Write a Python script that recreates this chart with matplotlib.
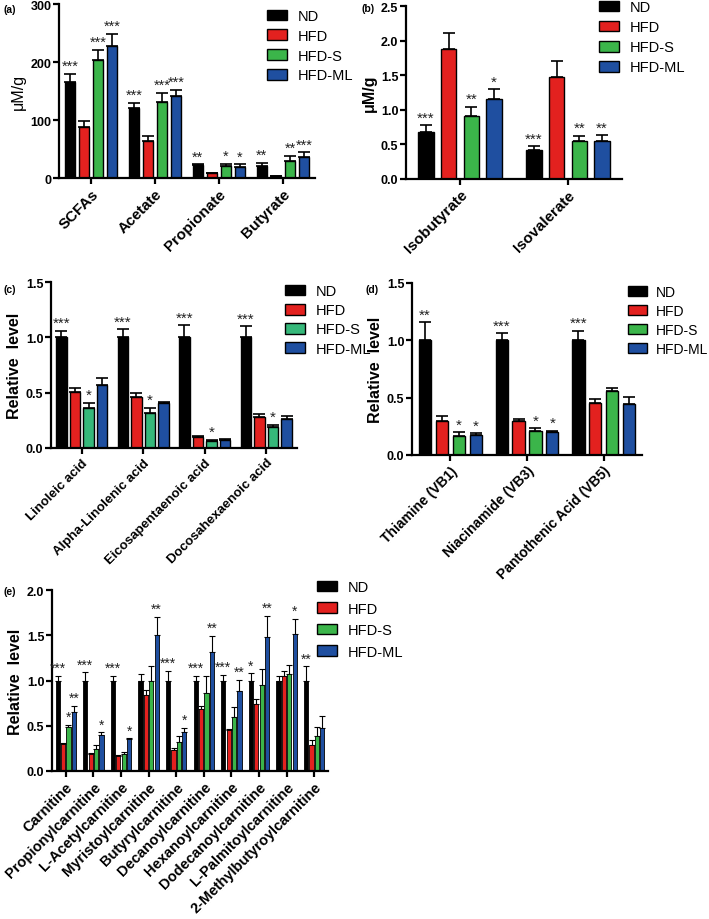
import numpy as np
import matplotlib.pyplot as plt
from matplotlib.patches import Patch

plt.rcParams['font.family'] = ['Liberation Sans', 'DejaVu Sans']

groups = ['ND', 'HFD', 'HFD-S', 'HFD-ML']
colors = ['#000000', '#e3211f', '#3bb54a', '#1f4fa0']
colors_c = ['#000000', '#e3211f', '#36b87a', '#1f4fa0']

# (a) SCFAs, rows = groups
a_cats = ['SCFAs', 'Acetate', 'Propionate', 'Butyrate']
a_mean = [[165, 120, 22, 21], [88, 64, 8, 3], [204, 131, 20, 29], [227, 142, 19, 36]]
a_err = [[15, 10, 2, 5], [11, 8, 1, 0.5], [17, 16, 5, 9], [22, 10, 5, 8]]
a_sig = [['***', '***', '**', '**'], ['', '', '', ''],
         ['***', '***', '*', '**'], ['***', '***', '*', '***']]

# (b) branched SCFAs
b_cats = ['Isobutyrate', 'Isovalerate']
b_mean = [[0.68, 0.42], [1.88, 1.48], [0.91, 0.545], [1.155, 0.555]]
b_err = [[0.10, 0.05], [0.23, 0.22], [0.135, 0.08], [0.14, 0.08]]
b_sig = [['***', '***'], ['', ''], ['**', '**'], ['*', '**']]

# (c) fatty acids
c_cats = ['Linoleic acid', 'Alpha-Linolenic acid', 'Eicosapentaenoic acid', 'Docosahexaenoic acid']
c_mean = [[1.0, 1.0, 1.0, 1.0], [0.51, 0.46, 0.10, 0.28], [0.36, 0.32, 0.065, 0.19], [0.57, 0.41, 0.075, 0.26]]
c_err = [[0.06, 0.075, 0.11, 0.10], [0.03, 0.04, 0.01, 0.03], [0.05, 0.045, 0.01, 0.02], [0.06, 0.01, 0.005, 0.03]]
c_sig = [['***'] * 4, [''] * 4, ['*'] * 4, [''] * 4]

# (d) vitamins
d_cats = ['Thiamine (VB1)', 'Niacinamide (VB3)', 'Pantothenic Acid (VB5)']
d_mean = [[1.0, 1.0, 1.0], [0.30, 0.30, 0.45], [0.17, 0.21, 0.555], [0.177, 0.20, 0.445]]
d_err = [[0.157, 0.06, 0.084], [0.04, 0.01, 0.04], [0.03, 0.025, 0.025], [0.013, 0.01, 0.065]]
d_sig = [['**', '***', '***'], ['', '', ''], ['*', '*', ''], ['*', '*', '']]

# (e) acylcarnitines
e_cats = ['Carnitine', 'Propionylcarnitine', 'L-Acetylcarnitine', 'Myristoylcarnitine',
          'Butyrylcarnitine', 'Decanoylcarnitine', 'Hexanoylcarnitine', 'Dodecanoylcarnitine',
          'L-Palmitoylcarnitine', '2-Methylbutyroylcarnitine']
e_mean = [[1.0] * 10,
          [0.294, 0.184, 0.162, 0.835, 0.232, 0.684, 0.449, 0.743, 1.05, 0.29],
          [0.485, 0.243, 0.19, 1.0, 0.324, 0.864, 0.592, 0.945, 1.07, 0.39],
          [0.65, 0.40, 0.353, 1.504, 0.434, 1.316, 0.879, 1.48, 1.51, 0.47]]
e_err = [[0.055, 0.09, 0.05, 0.07, 0.11, 0.055, 0.062, 0.08, 0.048, 0.158],
         [0.016, 0.016, 0.011, 0.055, 0.022, 0.033, 0.018, 0.057, 0.05, 0.048],
         [0.025, 0.04, 0.023, 0.155, 0.062, 0.191, 0.118, 0.185, 0.10, 0.095],
         [0.07, 0.03, 0.007, 0.202, 0.044, 0.18, 0.128, 0.233, 0.17, 0.137]]
e_sig = [['***', '***', '***', '', '***', '***', '***', '*', '', '**'],
         [''] * 10,
         ['*', '', '', '', '', '', '', '', '', ''],
         ['**', '*', '*', '**', '*', '**', '**', '**', '*', '']]


def draw(ax, cats, means, errs, sigs, cols, width, step, ylim, yticks, ylabel,
         xlab_fs=9, star_fs=11, lw=1.0, cap=4.5, elw=1.2, ylab_w='bold'):
    x = np.arange(len(cats))
    for k in range(4):
        xs = x + (k - 1.5) * step
        ax.bar(xs, means[k], width, color=cols[k], edgecolor='black', linewidth=lw, zorder=2)
        ax.errorbar(xs, means[k], yerr=[np.zeros(len(cats)), errs[k]], fmt='none',
                    ecolor='black', elinewidth=elw, capsize=cap, capthick=elw, zorder=1)
        for xi, m, e, s in zip(xs, means[k], errs[k], sigs[k]):
            if s:
                ax.text(xi, m + e + (ylim[1] - ylim[0]) * 0.004, s, ha='center', va='bottom',
                        fontsize=star_fs, color='#222222')
    ax.set_xlim(-0.5, len(cats) - 0.5)
    ax.set_ylim(*ylim)
    ax.set_yticks(yticks)
    ax.set_xticks(x)
    ax.set_xticklabels(cats, rotation=45, ha='right', rotation_mode='anchor',
                       fontsize=xlab_fs, fontweight='bold')
    for lab in ax.get_yticklabels():
        lab.set_fontweight('bold')
        lab.set_fontsize(9)
    ax.set_ylabel(ylabel, fontsize=11.5, fontweight=ylab_w, labelpad=3)
    ax.spines['top'].set_visible(False)
    ax.spines['right'].set_visible(False)
    ax.spines['left'].set_linewidth(1.6)
    ax.spines['bottom'].set_linewidth(1.6)
    ax.tick_params(axis='y', width=1.6, length=4, pad=1.5, direction='out')
    ax.tick_params(axis='x', width=1.6, length=4, pad=2, direction='out')


def legend(fig, cols, x, y, spacing, fs=10.5, tpad=0.7):
    handles = [Patch(facecolor=c, edgecolor='black', linewidth=1.0, label=g) for c, g in zip(cols, groups)]
    fig.legend(handles=handles, loc='upper left', bbox_to_anchor=(x / 709, 1 - y / 920),
               frameon=False, fontsize=fs, handlelength=1.4, handleheight=0.75,
               handletextpad=tpad, labelspacing=spacing, borderaxespad=0, borderpad=0)


fig = plt.figure(figsize=(7.09, 9.2), dpi=100)

ax_a = fig.add_axes([59 / 709, 1 - 179 / 920, 256 / 709, 174 / 920])
draw(ax_a, a_cats, a_mean, a_err, a_sig, colors, 0.165, 0.22, (0, 300), [0, 100, 200, 300], 'μM/g',
     xlab_fs=11, star_fs=10.5, ylab_w='normal')
legend(fig, colors, 267, 10, 0.4)

ax_b = fig.add_axes([406 / 709, 1 - 180 / 920, 216 / 709, 173 / 920])
draw(ax_b, b_cats, b_mean, b_err, b_sig, colors, 0.145, 0.21, (0, 2.5),
     [0, 0.5, 1.0, 1.5, 2.0, 2.5], 'μM/g', xlab_fs=11)
ax_b.yaxis.set_major_formatter(plt.FormatStrFormatter('%.1f'))
legend(fig, colors, 599, 1, 0.42)

ax_c = fig.add_axes([51 / 709, 1 - 449 / 920, 246 / 709, 166 / 920])
draw(ax_c, c_cats, c_mean, c_err, c_sig, colors_c, 0.175, 0.22, (0, 1.5), [0, 0.5, 1.0, 1.5],
     'Relative  level', xlab_fs=9.5)
ax_c.yaxis.set_major_formatter(plt.FormatStrFormatter('%.1f'))
legend(fig, colors_c, 285, 285, 0.36)

ax_d = fig.add_axes([412 / 709, 1 - 456 / 920, 230 / 709, 172 / 920])
draw(ax_d, d_cats, d_mean, d_err, d_sig, colors, 0.16, 0.22, (0, 1.5), [0, 0.5, 1.0, 1.5],
     'Relative  level', xlab_fs=10)
ax_d.yaxis.set_major_formatter(plt.FormatStrFormatter('%.1f'))
legend(fig, colors, 628, 286, 0.36, fs=10, tpad=0.6)

ax_e = fig.add_axes([52 / 709, 1 - 772 / 920, 276 / 709, 181 / 920])
draw(ax_e, e_cats, e_mean, e_err, e_sig, colors, 0.15, 0.195, (0, 2.0), [0, 0.5, 1.0, 1.5, 2.0],
     'Relative  level', xlab_fs=10.5, star_fs=10, lw=0.6, cap=2, elw=0.8)
ax_e.yaxis.set_major_formatter(plt.FormatStrFormatter('%.1f'))
legend(fig, colors, 317, 581, 0.52)

for lab, px, py in [('(a)', 4, 10), ('(b)', 362, 9), ('(c)', 4, 290), ('(d)', 366, 290), ('(e)', 4, 592)]:
    fig.text(px / 709, 1 - py / 920, lab, fontsize=7.5, fontweight='bold', va='center')

fig.savefig('out.png', dpi=100)
